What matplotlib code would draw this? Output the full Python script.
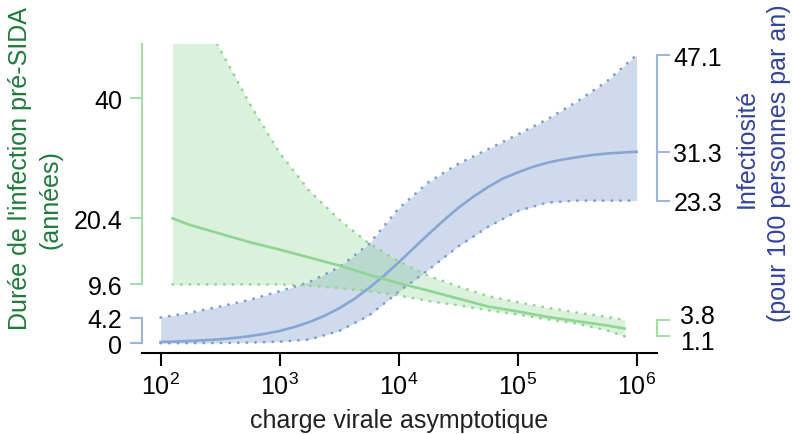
import numpy as np
import matplotlib
matplotlib.use("Agg")
import matplotlib.pyplot as plt
import matplotlib.transforms as mtransforms
from matplotlib.ticker import NullLocator

plt.rcParams['font.family'] = ['Liberation Sans', 'DejaVu Sans']
plt.rcParams['mathtext.default'] = 'regular'

# infectiosité (pour 100 personnes par an), x = log10 de la charge virale
log_charge_inf = [2.0, 2.25, 2.5, 2.75, 3.0, 3.25, 3.5, 3.75, 4.0,
                  4.25, 4.5, 4.75, 5.0, 5.25, 5.5, 5.75, 6.0]
inf_bas = [0.0, 0.02, 0.05, 0.1, 0.25, 0.6, 2.0, 4.5, 8.4,
           12.0, 15.8, 19.0, 21.6, 23.0, 23.3, 23.3, 23.3]
inf_haut = [4.2, 5.0, 6.0, 7.1, 8.5, 10.0, 12.4, 16.2, 22.0,
            26.3, 29.3, 31.7, 34.1, 36.6, 39.5, 42.8, 47.1]

# courbe moyenne, lue plus finement
log_charge_inf_moy = [2.0, 2.125, 2.25, 2.375, 2.5, 2.625, 2.75, 2.875,
                      3.0, 3.125, 3.25, 3.375, 3.5, 3.625, 3.75, 3.875,
                      4.0, 4.125, 4.25, 4.375, 4.5, 4.625, 4.75, 4.875,
                      5.0, 5.125, 5.25, 5.375, 5.5, 5.625, 5.75, 5.875, 6.0]
inf_moy = [0.2, 0.28, 0.37, 0.49, 0.65, 0.87, 1.16, 1.53,
           2.0, 2.65, 3.46, 4.47, 5.7, 7.2, 9.0, 11.0,
           13.2, 15.5, 17.8, 20.0, 22.1, 23.9, 25.5, 26.9,
           27.9, 28.8, 29.5, 30.0, 30.4, 30.75, 31.0, 31.15, 31.3]

# durée de l'infection pré-SIDA (années)
log_charge_dur = [2.1, 2.25, 2.5, 2.75, 3.0, 3.25, 3.5, 3.75, 4.0,
                  4.25, 4.5, 4.75, 5.0, 5.25, 5.5, 5.75, 5.9]
dur_moy = [20.4, 19.3, 17.9, 16.5, 15.3, 14.0, 12.7, 11.2, 9.8,
           8.6, 7.3, 6.0, 5.2, 4.3, 3.6, 2.9, 2.4]
dur_bas = [9.6, 9.6, 9.6, 9.6, 9.6, 9.4, 9.0, 8.5, 7.8,
           6.9, 6.2, 5.4, 4.7, 3.9, 3.2, 2.1, 1.1]
dur_haut = [65.0, 57.0, 48.0, 39.1, 31.1, 24.9, 20.2, 16.3, 13.4,
            11.0, 9.3, 7.7, 6.7, 5.8, 5.0, 4.3, 3.8]

x_ticks = [1e2, 1e3, 1e4, 1e5, 1e6]
dur_ticks_gauche = [9.6, 20.4, 40]
inf_ticks_gauche = [0, 4.2]
inf_ticks_droite = [23.3, 31.3, 47.1]
dur_ticks_droite = [1.1, 3.8]

VERT = '#8fd694'
VERT_POINT = '#93d497'
VERT_AXE = '#a6dea9'
BLEU = '#89a5d3'
BLEU_POINT = '#7f9cd2'
BLEU_AXE = '#9db4dc'
VERT_TEXTE = '#1f7a3c'
BLEU_TEXTE = '#34449a'

YMIN, YMAX = -1.6, 48.9
FS = 18

fig = plt.figure(figsize=(7.92, 4.35), dpi=100)
ax = fig.add_axes([141.7 / 792, 1 - 354 / 435, 515 / 792, 309 / 435])

x_inf = 10 ** np.array(log_charge_inf)
x_inf_moy = 10 ** np.array(log_charge_inf_moy)
x_dur = 10 ** np.array(log_charge_dur)

pointille = (0, (0.1, 3.0))
ax.fill_between(x_inf, inf_bas, inf_haut, color=BLEU, alpha=0.4, lw=0)
ax.fill_between(x_dur, dur_bas, dur_haut, color=VERT, alpha=0.33, lw=0)
for y in (inf_bas, inf_haut):
    ax.plot(x_inf, y, color=BLEU_POINT, lw=2.0, ls=pointille,
            dash_capstyle='round')
for y in (dur_bas, dur_haut):
    ax.plot(x_dur, y, color=VERT_POINT, lw=2.0, ls=pointille,
            dash_capstyle='round')
ax.plot(x_inf_moy, inf_moy, color=BLEU, lw=1.9)
ax.plot(x_dur, dur_moy, color=VERT, lw=1.9)

ax.set_xscale('log')
ax.set_xlim(10 ** 1.841, 10 ** 6.169)
ax.set_ylim(YMIN, YMAX)


def range_axis(a, side, bounds, ticks, color):
    for s in ('top', 'left', 'right'):
        a.spines[s].set_visible(s == side)
    a.spines[side].set_bounds(*bounds)
    a.spines[side].set_color(color)
    a.spines[side].set_linewidth(1.5)
    a.set_ylim(YMIN, YMAX)
    if side == 'left':
        a.yaxis.tick_left()
    else:
        a.yaxis.tick_right()
    a.set_yticks(ticks, labels=[('%g' % t) for t in ticks])
    a.tick_params(axis='y', color=color, labelcolor='black', length=9,
                  width=1.5, labelsize=FS, pad=5 if side == 'left' else 3)
    return a


range_axis(ax, 'left', (9.6, YMAX), dur_ticks_gauche, VERT_AXE)
ax_b = range_axis(ax.twinx(), 'left', (0, 4.2), inf_ticks_gauche, BLEU_AXE)
ax_c = range_axis(ax.twinx(), 'right', (23.3, 47.1), inf_ticks_droite, BLEU_AXE)
ax_d = range_axis(ax.twinx(), 'right', (1.1, 3.8), dur_ticks_droite, VERT_AXE)
for a in (ax_b, ax_c, ax_d):
    a.spines['bottom'].set_visible(False)

ax.set_xticks(x_ticks)
ax.xaxis.set_minor_locator(NullLocator())
ax.tick_params(axis='x', length=9, width=1.5, labelsize=FS, pad=5)
ax.spines['bottom'].set_linewidth(1.5)
ax.spines['bottom'].set_color('black')

# petits décalages des étiquettes 3.8 / 1.1 comme sur l'original
decal = {1.1: (0.07, -0.03), 3.8: (0.07, 0.06)}
for tick in ax_d.yaxis.get_major_ticks():
    dx, dy = decal[round(tick.get_loc(), 1)]
    lab = tick.label2
    lab.set_transform(lab.get_transform() +
                      mtransforms.ScaledTranslation(dx, dy, fig.dpi_scale_trans))

fig.text(399 / 792, 1 - 428 / 435, 'charge virale asymptotique',
         ha='center', va='baseline', fontsize=FS, color='#222222')
fig.text(20 / 792, 1 - 169 / 435, "Durée de l'infection pré-SIDA",
         rotation=90, ha='center', va='center', fontsize=FS, color=VERT_TEXTE)
fig.text(50 / 792, 1 - 200 / 435, '(années)',
         rotation=90, ha='center', va='center', fontsize=FS, color=VERT_TEXTE)
fig.text(747 / 792, 1 - 148 / 435, 'Infectiosité',
         rotation=90, ha='center', va='center', fontsize=FS, color=BLEU_TEXTE)
fig.text(779 / 792, 1 - 163 / 435, '(pour 100 personnes par an)',
         rotation=90, ha='center', va='center', fontsize=FS, color=BLEU_TEXTE)

fig.savefig('out.png', dpi=100)
